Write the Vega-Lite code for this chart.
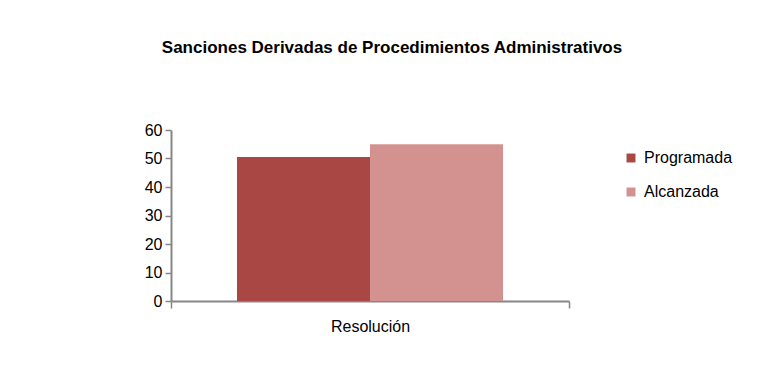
{
  "$schema": "https://vega.github.io/schema/vega-lite/v6.json",
  "width": 398,
  "height": 171,
  "padding": {"left": 144, "top": 39, "right": 0, "bottom": 0},
  "autosize": {"type": "pad"},
  "background": "white",
  "title": {
    "text": "Sanciones Derivadas de Procedimientos Administrativos",
    "font": "Liberation Sans",
    "fontSize": 17,
    "fontWeight": "bold",
    "color": "#000000",
    "anchor": "middle",
    "dx": 22,
    "offset": 65
  },
  "data": {
    "values": [
      {"categoria": "Resolución", "serie": "Programada", "valor": 50.5},
      {"categoria": "Resolución", "serie": "Alcanzada", "valor": 55}
    ]
  },
  "mark": {"type": "bar"},
  "encoding": {
    "x": {
      "field": "categoria",
      "type": "nominal",
      "title": null,
      "scale": {"paddingInner": 0, "paddingOuter": 0},
      "axis": {
        "labelAngle": 0,
        "labelFont": "Liberation Sans",
        "labelFontSize": 16,
        "labelColor": "#000000",
        "domainColor": "#868686",
        "domainWidth": 2,
        "tickColor": "#868686",
        "tickWidth": 1.5,
        "tickSize": 7,
        "tickBand": "extent",
        "labelPadding": 10
      }
    },
    "xOffset": {
      "field": "serie",
      "type": "nominal",
      "sort": ["Programada", "Alcanzada"],
      "scale": {"paddingInner": 0, "paddingOuter": 0.496}
    },
    "y": {
      "field": "valor",
      "type": "quantitative",
      "title": null,
      "scale": {"domain": [0, 60], "nice": false},
      "axis": {
        "values": [0, 10, 20, 30, 40, 50, 60],
        "grid": false,
        "labelFont": "Liberation Sans",
        "labelFontSize": 16,
        "labelColor": "#000000",
        "domainColor": "#868686",
        "domainWidth": 2,
        "tickColor": "#868686",
        "tickWidth": 1.5,
        "tickSize": 6,
        "labelPadding": 3
      }
    },
    "color": {
      "field": "serie",
      "type": "nominal",
      "sort": ["Programada", "Alcanzada"],
      "scale": {"domain": ["Programada", "Alcanzada"], "range": ["#A94744", "#D39290"]},
      "legend": {
        "title": null,
        "orient": "none",
        "legendX": 452,
        "legendY": 20,
        "symbolType": "square",
        "symbolSize": 80,
        "symbolStrokeWidth": 0,
        "labelFont": "Liberation Sans",
        "labelFontSize": 16,
        "labelColor": "#000000",
        "rowPadding": 18,
        "labelOffset": 5
      }
    }
  },
  "config": {"view": {"stroke": null}}
}
